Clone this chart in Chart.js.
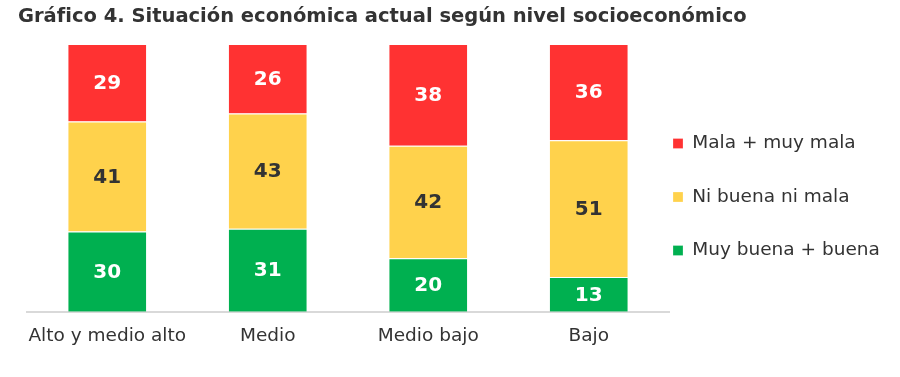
<!DOCTYPE html>
<html lang="es">
<head>
  <meta charset="UTF-8" />
  <title>Situación económica actual según nivel socioeconómico</title>
  <script src="https://cdn.jsdelivr.net/npm/chart.js"></script>
  <style>
    body {
      margin: 0;
      background: #fff;
    }
    .wrap {
      width: 900px;
      height: 377px;
    }
  </style>
</head>
<body>
  <div class="wrap"><canvas id="chart"></canvas></div>

  <script>
    // Datos del gráfico
    const categorias = ['Alto y medio alto', 'Medio', 'Medio bajo', 'Bajo'];
    const muyBuenaBuena = [30, 31, 20, 13];
    const niBuenaNiMala = [41, 43, 42, 51];
    const malaMuyMala = [29, 26, 38, 36];

    const FONT = "'DejaVu Sans', sans-serif";
    const TEXT = '#333333';

    // Etiquetas dentro de cada barra
    const etiquetas = {
      id: 'etiquetas',
      afterDatasetsDraw(chart) {
        const ctx = chart.ctx;
        ctx.save();
        ctx.font = 'bold 20px ' + FONT;
        ctx.textAlign = 'center';
        ctx.textBaseline = 'middle';
        chart.data.datasets.forEach((ds, i) => {
          const meta = chart.getDatasetMeta(i);
          meta.data.forEach((bar, j) => {
            ctx.fillStyle = ds.labelColor;
            ctx.fillText(ds.data[j], bar.x, (bar.y + bar.base) / 2 + 1);
          });
        });
        ctx.restore();
      }
    };

    // Acerca la leyenda al área del gráfico y la baja un poco
    const moverLeyenda = {
      id: 'moverLeyenda',
      afterLayout(chart) {
        const lg = chart.legend;
        const pad = lg.options.labels.padding;
        lg.left = chart.chartArea.right + 4 - pad;
        lg.right = chart.width;
        lg.top += 17;
        lg.bottom += 17;
      }
    };

    new Chart(document.getElementById('chart'), {
      type: 'bar',
      data: {
        labels: categorias,
        datasets: [
          { label: 'Muy buena + buena', data: muyBuenaBuena, backgroundColor: '#00B050', labelColor: '#ffffff' },
          { label: 'Ni buena ni mala', data: niBuenaNiMala, backgroundColor: '#FFD24C', labelColor: TEXT },
          { label: 'Mala + muy mala', data: malaMuyMala, backgroundColor: '#FF3232', labelColor: '#ffffff' }
        ]
      },
      options: {
        responsive: true,
        maintainAspectRatio: false,
        animation: false,
        layout: { padding: { left: 18, right: 0, top: 0, bottom: 17 } },
        datasets: {
          bar: {
            categoryPercentage: 1,
            barPercentage: 0.486,
            borderColor: '#ffffff',
            borderWidth: { top: 1, left: 0, right: 0, bottom: 0 },
            borderSkipped: false
          }
        },
        scales: {
          x: {
            stacked: true,
            grid: { display: false, drawTicks: false },
            border: { display: true, color: '#d9d9d9', width: 2 },
            ticks: {
              color: TEXT,
              font: { family: FONT, size: 18.5 },
              padding: 13,
              maxRotation: 0,
              minRotation: 0,
              autoSkip: false
            }
          },
          y: {
            stacked: true,
            min: 0,
            max: 100,
            grid: { display: false, drawTicks: false },
            border: { display: false },
            ticks: { display: false },
            afterFit(scale) { scale.width = 9; }
          }
        },
        plugins: {
          title: {
            display: true,
            text: 'Gráfico 4. Situación económica actual según nivel socioeconómico',
            align: 'start',
            color: TEXT,
            font: { family: FONT, size: 19.5, weight: 'bold' },
            padding: { top: 5, bottom: 15.5 }
          },
          legend: {
            position: 'right',
            reverse: true,
            maxWidth: 231,
            labels: {
              color: TEXT,
              font: { family: FONT, size: 18.5 },
              boxWidth: 10,
              boxHeight: 10,
              padding: 35
            }
          },
          tooltip: { enabled: false }
        }
      },
      plugins: [etiquetas, moverLeyenda]
    });
  </script>
</body>
</html>
